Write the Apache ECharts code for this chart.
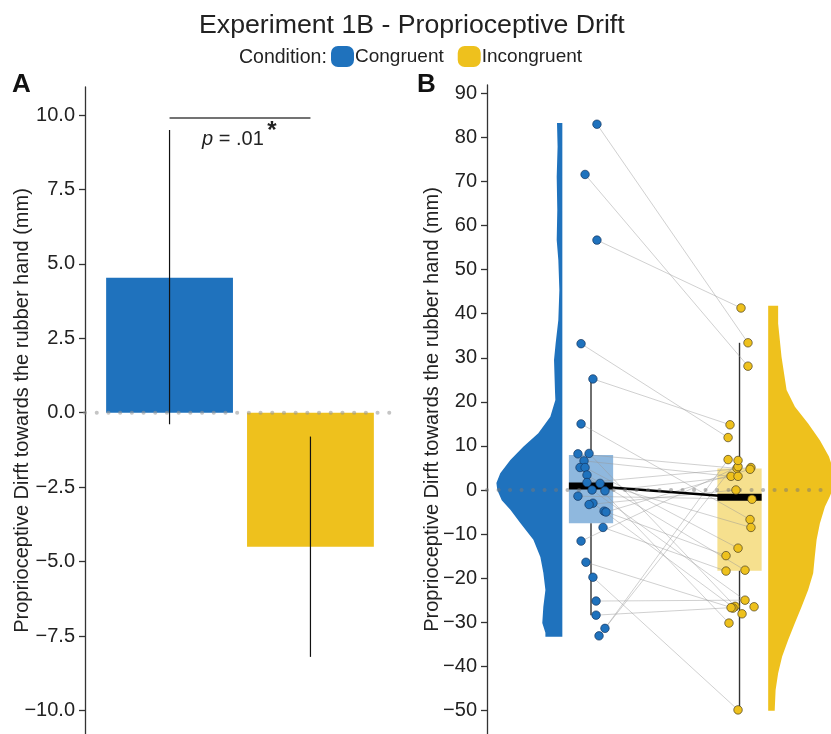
<!DOCTYPE html>
<html><head><meta charset="utf-8">
<script src="https://cdn.jsdelivr.net/npm/echarts@6/dist/echarts.min.js"></script>
<style>html,body{margin:0;padding:0;background:#fff}#c{width:831px;height:734px}</style>
</head><body><div id="c"></div>
<script>
// ---------- data ----------
const conditions = ['Congruent', 'Incongruent'];
const barMeans = [4.53, -4.50];
const ciLow = [-0.39, -8.20];
const ciHigh = [9.50, -0.80];
const sigY = 9.9;
const pText = '{i|p} = .01';
const pStar = '*';

const ticksA = [-10, -7.5, -5, -2.5, 0, 2.5, 5, 7.5, 10];
const ticksB = [-50, -40, -30, -20, -10, 0, 10, 20, 30, 40, 50, 60, 70, 80, 90];

// paired participants: congruentDrift[i] <-> incongruentDrift[i]
const congruentDrift = [83.0, 71.6, 56.7, 33.2, 25.2, 15.0, 8.2, 8.3, 6.6, 5.1, 5.1, 3.4, 1.7, 1.5, 0.0, -0.2, -1.4, -3.0, -3.3, -4.8, -5.0, -8.5, -11.6, -16.4, -19.8, -25.2, -28.4, -31.4, -33.1];
const incongruentDrift = [33.4, 28.1, 41.3, 11.9, 14.8, -6.7, 4.9, -26.4, 3.1, -30.2, -13.2, -18.2, 5.1, -8.5, -26.5, 3.1, -2.1, -28.1, 0.0, -14.9, 4.7, -18.4, 5.3, -26.8, -49.9, -25.0, -26.7, 6.9, 6.7];
const congruentJitter = [0.040, -0.040, 0.040, -0.067, 0.013, -0.067, -0.088, -0.013, -0.047, -0.074, -0.040, -0.027, -0.027, 0.061, 0.007, 0.094, -0.088, 0.013, -0.013, 0.088, 0.101, 0.081, -0.067, -0.034, 0.013, 0.034, 0.034, 0.094, 0.054];
const incongruentJitter = [0.057, 0.057, 0.010, -0.077, -0.064, 0.071, -0.017, -0.030, -0.057, -0.071, -0.010, 0.037, 0.077, 0.077, 0.098, -0.010, 0.084, 0.017, -0.024, -0.091, 0.071, -0.091, -0.010, -0.044, -0.010, 0.037, -0.057, -0.077, -0.010];

// box stats: [whiskerLow, q1, median, q3, whiskerHigh]
const congruentBox = [-28.4, -7.57, 0.9, 7.94, 25.2];
const incongruentBox = [-50.0, -18.3, -1.66, 4.9, 33.4];

// half-violin profiles: [value, width]
const congruentViolin = [[83.3,0.036],[77.9,0.032],[71.1,0.038],[63.5,0.034],[56.7,0.038],[52.2,0.027],[45.4,0.020],[38.6,0.027],[33.3,0.045],[29.5,0.056],[22.0,0.049],[20.4,0.047],[16.6,0.081],[12.9,0.162],[9.8,0.263],[6.8,0.350],[3.8,0.418],[1.6,0.444],[0.0,0.438],[-2.3,0.408],[-4.5,0.350],[-7.5,0.283],[-11.3,0.195],[-15.2,0.148],[-18.8,0.128],[-22.7,0.114],[-26.5,0.128],[-30.2,0.135],[-32.4,0.114],[-33.3,0.114]];
const incongruentViolin = [[41.8,0.067],[37.8,0.067],[30.2,0.090],[22.7,0.124],[18.9,0.180],[15.1,0.269],[11.3,0.348],[7.6,0.409],[6.1,0.424],[3.5,0.451],[1.0,0.444],[-1.5,0.415],[-3.8,0.382],[-7.6,0.348],[-11.3,0.326],[-15.1,0.314],[-18.9,0.303],[-22.7,0.269],[-26.5,0.225],[-30.2,0.180],[-34.0,0.135],[-37.8,0.094],[-41.6,0.067],[-45.4,0.050],[-49.2,0.045],[-50.1,0.044]];

// ---------- style ----------
const FONT = "'Liberation Sans', Arial, Helvetica, sans-serif";
const BLUE = '#1f72bd', YELLOW = '#eec11d';
const BLUE_BOX = 'rgba(31,114,189,0.5)', YELLOW_BOX = 'rgba(238,193,29,0.5)';
const TXT = '#222';
const AX = '#333';
const BAR_HALF = 0.45, BOX_HALF = 0.149, VIOLIN_GAP = 0.193;
const KEY_ICON = 'path://M7,0 H16 A7,7 0 0 1 23,7 V14 A7,7 0 0 1 16,21 H7 A7,7 0 0 1 0,14 V7 A7,7 0 0 1 7,0 Z';

const minusFmt = (d) => (v) => (v < 0 ? '\u2212' : '') + Math.abs(v).toFixed(d);

function yAxisCfg(grid, min, max, ticks, dec, gap) {
  return {
    type: 'value', gridIndex: grid, min: min, max: max,
    axisLine: { show: true, lineStyle: { color: AX, width: 1.3 } },
    axisTick: { show: true, customValues: ticks, length: 6, lineStyle: { color: AX, width: 1.3 } },
    axisLabel: { customValues: ticks, formatter: minusFmt(dec), fontSize: 20, color: TXT, fontFamily: FONT, margin: 10 },
    splitLine: { show: false },
    name: 'Proprioceptive Dirft towards the rubber hand (mm)',
    nameLocation: 'middle', nameGap: gap, nameMoveOverlap: false,
    nameTextStyle: { fontSize: 20, color: TXT, fontFamily: FONT }
  };
}

function barSeries(i, color) {
  return {
    type: 'custom', name: conditions[i], xAxisIndex: 0, yAxisIndex: 0, z: 2,
    itemStyle: { color: color },
    data: [[i + 1, barMeans[i]]],
    renderItem: function (params, api) {
      const x = api.value(0), v = api.value(1);
      const a = api.coord([x - BAR_HALF, Math.max(v, 0)]);
      const b = api.coord([x + BAR_HALF, Math.min(v, 0)]);
      return { type: 'rect', shape: { x: a[0], y: a[1], width: b[0] - a[0], height: b[1] - a[1] }, style: { fill: color } };
    }
  };
}

function violinSeries(i, profile, color) {
  const side = i === 0 ? -1 : 1;
  const edge = (i + 1) + side * VIOLIN_GAP;
  return {
    type: 'custom', name: conditions[i], xAxisIndex: 1, yAxisIndex: 1, z: 1,
    itemStyle: { color: color },
    data: [[edge, profile[0][0]]],
    renderItem: function (params, api) {
      const pts = [];
      pts.push(api.coord([edge, profile[0][0]]));
      profile.forEach(function (p) { pts.push(api.coord([edge + side * p[1], p[0]])); });
      pts.push(api.coord([edge, profile[profile.length - 1][0]]));
      return { type: 'polygon', shape: { points: pts }, style: { fill: color } };
    }
  };
}

function boxSeries(i, stats, fill) {
  return {
    type: 'custom', xAxisIndex: 1, yAxisIndex: 1, z: 3, silent: true,
    data: [[i + 1].concat(stats)],
    renderItem: function (params, api) {
      const x = api.value(0);
      const wl = api.value(1), q1 = api.value(2), q3 = api.value(4), wh = api.value(5);
      const tl = api.coord([x - BOX_HALF, q3]);
      const br = api.coord([x + BOX_HALF, q1]);
      const c = api.coord([x, 0]);
      const pTop = api.coord([x, wh]), pBot = api.coord([x, wl]);
      return {
        type: 'group', children: [
          { type: 'line', shape: { x1: c[0], y1: pTop[1], x2: c[0], y2: tl[1] }, style: { stroke: AX, lineWidth: 1.4 } },
          { type: 'line', shape: { x1: c[0], y1: br[1], x2: c[0], y2: pBot[1] }, style: { stroke: AX, lineWidth: 1.4 } },
          { type: 'rect', shape: { x: tl[0], y: tl[1], width: br[0] - tl[0], height: br[1] - tl[1] }, style: { fill: fill } }
        ]
      };
    }
  };
}

function medianBarSeries(i, stats) {
  return {
    type: 'custom', xAxisIndex: 1, yAxisIndex: 1, z: 6, silent: true,
    data: [[i + 1, stats[2]]],
    renderItem: function (params, api) {
      const x = api.value(0), m = api.value(1);
      const a = api.coord([x - BOX_HALF, m]);
      const b = api.coord([x + BOX_HALF, m]);
      return { type: 'rect', shape: { x: a[0], y: a[1] - 3.5, width: b[0] - a[0], height: 7 }, style: { fill: '#000' } };
    }
  };
}

const pairData = congruentDrift.map(function (v, k) {
  return [1 + congruentJitter[k], v, 2 + incongruentJitter[k], incongruentDrift[k]];
});

const option = {
  animation: false,
  backgroundColor: '#fff',
  title: [
    { text: 'Experiment 1B - Proprioceptive Drift', left: 199, top: 12, padding: 0, textStyle: { fontSize: 26.7, fontWeight: 'normal', color: TXT, fontFamily: FONT } },
    { text: 'Condition:', left: 239, top: 48, padding: 0, textStyle: { fontSize: 19.5, fontWeight: 'normal', color: TXT, fontFamily: FONT } },
    { text: 'A', left: 12, top: 72, padding: 0, textStyle: { fontSize: 26, fontWeight: 'bold', color: '#111', fontFamily: FONT } },
    { text: 'B', left: 417, top: 72, padding: 0, textStyle: { fontSize: 26, fontWeight: 'bold', color: '#111', fontFamily: FONT } }
  ],
  legend: {
    data: conditions, left: 331, top: 46, padding: 0, icon: KEY_ICON, itemWidth: 23, itemHeight: 21, itemGap: 14,
    textStyle: { fontSize: 19, color: TXT, fontFamily: FONT, padding: [0, 0, 0, -4] }
  },
  grid: [
    { left: 85, top: 87, width: 310, height: 647 },
    { left: 487, top: 85, width: 344, height: 649 }
  ],
  xAxis: [
    { type: 'value', gridIndex: 0, min: 0.4, max: 2.6, show: false },
    { type: 'value', gridIndex: 1, min: 0.2997, max: 2.616, show: false }
  ],
  yAxis: [
    yAxisCfg(0, -10.79, 10.94, ticksA, 1, 53),
    yAxisCfg(1, -55.37, 91.9, ticksB, 0, 45)
  ],
  series: [
    barSeries(0, BLUE),
    barSeries(1, YELLOW),
    {
      type: 'custom', xAxisIndex: 0, yAxisIndex: 0, z: 4, silent: true,
      data: conditions.map(function (c, i) { return [i + 1, ciLow[i], ciHigh[i]]; }),
      renderItem: function (params, api) {
        const a = api.coord([api.value(0), api.value(1)]);
        const b = api.coord([api.value(0), api.value(2)]);
        return { type: 'line', shape: { x1: a[0], y1: a[1], x2: b[0], y2: b[1] }, style: { stroke: '#111', lineWidth: 1.2 } };
      }
    },
    {
      type: 'line', xAxisIndex: 0, yAxisIndex: 0, z: 5, silent: true, symbol: 'none',
      data: [[0.4, 0], [2.6, 0]],
      lineStyle: { color: 'rgba(150,150,150,0.55)', width: 4, type: [0.1, 11.6], cap: 'round' }
    },
    {
      type: 'custom', xAxisIndex: 0, yAxisIndex: 0, z: 5, silent: true,
      data: [[1, 2, sigY]],
      renderItem: function (params, api) {
        const a = api.coord([api.value(0), api.value(2)]);
        const b = api.coord([api.value(1), api.value(2)]);
        const t = api.coord([1.45, 9.19]);
        return {
          type: 'group', children: [
            { type: 'line', shape: { x1: a[0], y1: a[1], x2: b[0], y2: b[1] }, style: { stroke: '#444', lineWidth: 1.6 } },
            { type: 'text', x: t[0], y: t[1], style: { text: pText, rich: { i: { fontStyle: 'italic', fontSize: 20, fontFamily: FONT, fill: TXT } }, fontSize: 20, fontFamily: FONT, fill: TXT, align: 'center', verticalAlign: 'middle' } },
            { type: 'text', x: t[0] + 39, y: t[1] - 8, style: { text: pStar, fontSize: 24, fontFamily: FONT, fontWeight: 'bold', fill: TXT, align: 'center', verticalAlign: 'middle' } }
          ]
        };
      }
    },
    violinSeries(0, congruentViolin, BLUE),
    violinSeries(1, incongruentViolin, YELLOW),
    boxSeries(0, congruentBox, BLUE_BOX),
    boxSeries(1, incongruentBox, YELLOW_BOX),
    {
      type: 'custom', xAxisIndex: 1, yAxisIndex: 1, z: 4, silent: true,
      data: pairData,
      renderItem: function (params, api) {
        const a = api.coord([api.value(0), api.value(1)]);
        const b = api.coord([api.value(2), api.value(3)]);
        return { type: 'line', shape: { x1: a[0], y1: a[1], x2: b[0], y2: b[1] }, style: { stroke: 'rgba(150,150,150,0.45)', lineWidth: 1 } };
      }
    },
    {
      type: 'line', xAxisIndex: 1, yAxisIndex: 1, z: 5, silent: true, symbol: 'none',
      data: [[1, congruentBox[2]], [2, incongruentBox[2]]],
      lineStyle: { color: '#000', width: 2.6 }
    },
    medianBarSeries(0, congruentBox),
    medianBarSeries(1, incongruentBox),
    {
      type: 'line', xAxisIndex: 1, yAxisIndex: 1, z: 7, silent: true, symbol: 'none',
      data: [[0.2997, 0], [2.616, 0]],
      lineStyle: { color: 'rgba(120,120,120,0.5)', width: 4, type: [0.1, 11.4], cap: 'round' }
    },
    {
      type: 'scatter', xAxisIndex: 1, yAxisIndex: 1, z: 8, silent: true,
      symbolSize: 8.5,
      data: congruentDrift.map(function (v, k) { return [1 + congruentJitter[k], v]; }),
      itemStyle: { color: BLUE, borderColor: 'rgba(20,50,90,0.85)', borderWidth: 0.8, opacity: 1 }
    },
    {
      type: 'scatter', xAxisIndex: 1, yAxisIndex: 1, z: 8, silent: true,
      symbolSize: 8.5,
      data: incongruentDrift.map(function (v, k) { return [2 + incongruentJitter[k], v]; }),
      itemStyle: { color: YELLOW, borderColor: 'rgba(70,60,30,0.85)', borderWidth: 0.8, opacity: 1 }
    }
  ]
};

const chart = echarts.init(document.getElementById('c'), null, { renderer: 'canvas' });
chart.setOption(option);
</script>
</body></html>
